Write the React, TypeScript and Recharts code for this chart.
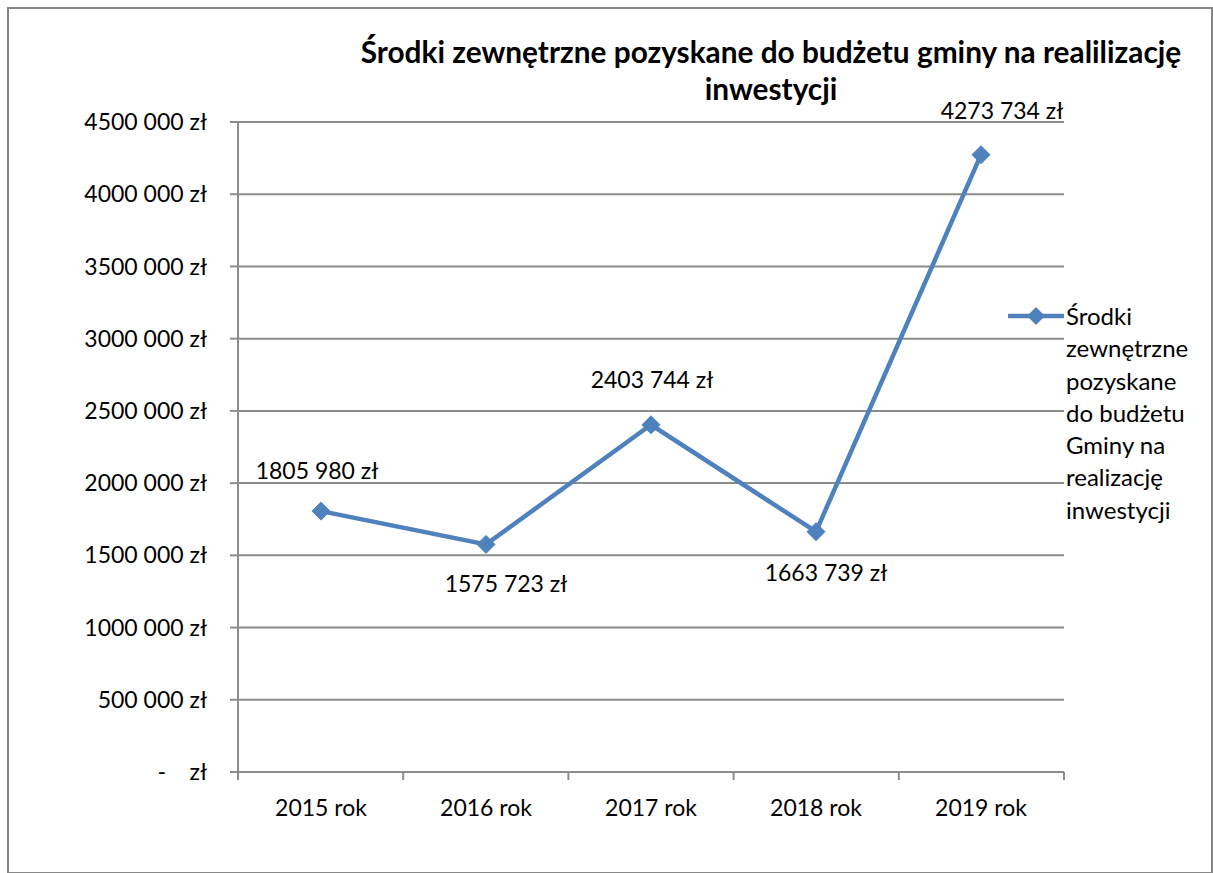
import React from "react";
import { LineChart, Line, XAxis, YAxis, CartesianGrid, LabelList } from "recharts";

const years = ["2015 rok", "2016 rok", "2017 rok", "2018 rok", "2019 rok"];
const amounts = [1805980, 1575723, 2403744, 1663739, 4273734];
const yTicks = [0, 500000, 1000000, 1500000, 2000000, 2500000, 3000000, 3500000, 4000000, 4500000];
// tick marks sit between categories, like Excel
const categoryEdges = [0, 1, 2, 3, 4, 5];

const seriesName = "Środki zewnętrzne pozyskane do budżetu Gminy na realizację inwestycji";
const legendLines = ["Środki", "zewnętrzne", "pozyskane", "do budżetu", "Gminy na", "realizację", "inwestycji"];

// label placement like the original (above / below the point)
const labelPlacement = [
  { dx: -4, dy: -41 },
  { dx: 20, dy: 39 },
  { dx: 1, dy: -46 },
  { dx: 10, dy: 40 },
  { dx: 21, dy: -45 },
];

const data = years.map((year, i) => ({ year, value: amounts[i], slot: i + 0.5 }));

const FONT = "Lato, 'Open Sans', sans-serif";
const BLUE = "#4F81BD";
const GRID = "#8c8c8c";

function formatZl(v: number) {
  if (v === 0) return "-\u00A0\u00A0\u00A0\u00A0zł";
  const thousands = Math.floor(v / 1000);
  const rest = String(v % 1000).padStart(3, "0");
  return `${thousands} ${rest} zł`;
}

const Diamond = (props: any) => {
  const { cx, cy } = props;
  if (cx == null || cy == null) return null;
  const r = 9;
  return (
    <polygon
      points={`${cx},${cy - r} ${cx + r},${cy} ${cx},${cy + r} ${cx - r},${cy}`}
      fill={BLUE}
      stroke={BLUE}
      strokeWidth={1}
    />
  );
};

const ValueLabel = (props: any) => {
  const { x, y, value, index } = props;
  const p = labelPlacement[index];
  return (
    <text
      x={x + p.dx}
      y={y + p.dy}
      textAnchor="middle"
      dominantBaseline="central"
      fontSize={23}
      fontFamily={FONT}
      fill="#000"
    >
      {formatZl(value)}
    </text>
  );
};

export default function App() {
  return (
    <div style={{ position: "absolute", left: 0, top: 0, width: 1213, height: 873, background: "#fff" }}>
      <div
        style={{
          position: "absolute",
          left: 7,
          top: 7,
          width: 1202,
          height: 863,
          border: "2px solid #878787",
        }}
      />
      <div
        style={{
          position: "absolute",
          left: 271,
          top: 33,
          width: 1000,
          textAlign: "center",
          fontFamily: FONT,
          fontWeight: 700,
          fontSize: 29.8,
          lineHeight: "37px",
          color: "#000",
        }}
      >
        Środki zewnętrzne pozyskane do budżetu gminy na realilizację
        <br />
        inwestycji
      </div>

      <div style={{ position: "absolute", left: 0, top: 0 }}>
        <LineChart
          width={1213}
          height={873}
          data={data}
          margin={{ top: 122, right: 149, bottom: 70, left: 38 }}
        >
          <CartesianGrid xAxisId="b" vertical={false} stroke={GRID} strokeWidth={2} />
          <XAxis
            xAxisId="b"
            dataKey="year"
            height={30}
            axisLine={false}
            tickLine={false}
            padding={{ left: 83, right: 83 }}
            tickMargin={21}
            tick={{ fill: "#000", fontSize: 23, fontFamily: FONT }}
            interval={0}
          />
          <XAxis
            xAxisId="a"
            dataKey="slot"
            type="number"
            domain={[0, 5]}
            ticks={categoryEdges}
            height={1}
            stroke={GRID}
            strokeWidth={2}
            tickSize={8}
            tickLine={{ stroke: GRID, strokeWidth: 2 }}
            tick={() => <g />}
          />
          <YAxis
            width={200}
            domain={[0, 4500000]}
            ticks={yTicks}
            stroke={GRID}
            strokeWidth={2}
            tickSize={8}
            tickMargin={23}
            tickFormatter={formatZl}
            tick={{ fill: "#000", fontSize: 23, fontFamily: FONT }}
          />
          <Line
            xAxisId="b"
            type="linear"
            dataKey="value"
            name={seriesName}
            stroke={BLUE}
            strokeWidth={4.5}
            dot={<Diamond />}
            activeDot={false}
            isAnimationActive={false}
          >
            <LabelList dataKey="value" content={<ValueLabel />} />
          </Line>
        </LineChart>
      </div>

      <div style={{ position: "absolute", left: 1008, top: 300, fontFamily: FONT, fontSize: 24 }}>
        <svg width={56} height={32} style={{ position: "absolute", left: 0, top: 0 }}>
          <line x1={1} y1={16} x2={55} y2={16} stroke={BLUE} strokeWidth={4.5} strokeLinecap="round" />
          <polygon points="28,7 37,16 28,25 19,16" fill={BLUE} />
        </svg>
        <div style={{ position: "absolute", left: 58, top: 0, lineHeight: "32.3px", whiteSpace: "nowrap", color: "#000" }}>
          {legendLines.map((l) => (
            <div key={l}>{l}</div>
          ))}
        </div>
      </div>
    </div>
  );
}
